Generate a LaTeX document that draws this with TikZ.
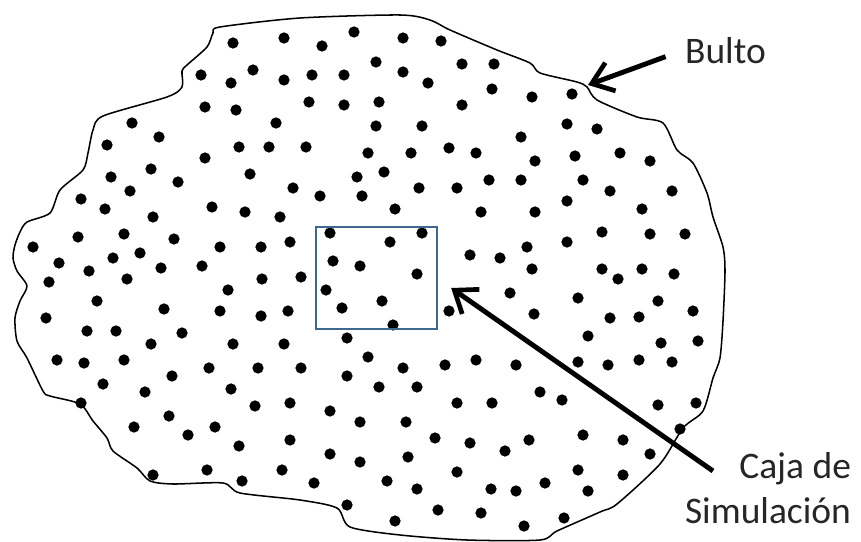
\documentclass[tikz,border=0pt]{standalone}
\usepackage{fontspec}
\setmainfont{Carlito}
\usetikzlibrary{arrows.meta}
\definecolor{boxblue}{RGB}{64,104,138}
\begin{document}
\begin{tikzpicture}[x=0.03cm, y=-0.03cm,
    every node/.style={font=\fontsize{32}{38}\selectfont, text=black!85},
    partdot/.style={fill=black},
    simbox/.style={draw=boxblue, line width=1.6pt, minimum width=103.7pt, minimum height=86.7pt, inner sep=0pt},
    pointer/.style={line width=4.2pt, -{Straight Barb[length=6mm, width=9mm, line width=4pt]}}]
  \useasboundingbox (0,0) rectangle (861,542);
  % Bulk outline
  \draw[line width=1.3pt, line join=round] plot[smooth cycle, tension=0.45] coordinates {
    (220,27) (300,18) (400,15) (430,20) (450,30) (497,50) (530,63) (540,73)
    (577,82) (587,87) (597,100) (637,117) (663,123) (677,150) (693,163)
    (707,193) (713,217) (723,247) (725,271) (723,321) (720,358) (713,378)
    (703,411) (683,428) (660,464) (617,504) (600,512) (557,531) (540,540)
    (467,540) (400,535) (350,527) (337,508) (300,500) (240,493) (223,483)
    (173,484) (150,481) (137,468) (113,451) (107,438) (93,421) (80,404)
    (50,396) (43,391) (27,358) (17,341) (15,318) (20,301) (27,286) (17,271)
    (13,258) (15,245) (20,232) (27,222) (50,213) (60,190) (83,170) (88,153)
    (93,130) (103,116) (167,97) (182,87) (182,71) (187,65) (207,47) (213,33)};
  % Particles
  \foreach \x/\y in {
    233/43, 284/38, 322/46, 354/32, 403/38, 441/41,
    201/75, 231/83, 253/70, 284/80, 312/75, 344/75, 376/62, 403/72, 428/83, 462/64, 494/64,
    205/107, 236/110, 309/102, 344/105, 379/102, 492/89, 462/105, 532/97, 572/94,
    132/123, 276/123, 376/126, 422/126, 567/124, 597/129, 159/137, 521/137,
    107/145, 239/147, 269/147, 306/147, 449/148, 368/153, 411/153, 476/153, 575/156, 620/153,
    205/158, 535/161, 650/161, 151/169, 250/174, 384/172, 357/177,
    111/177, 178/182, 489/180, 521/180, 583/180,
    293/188, 419/188, 130/191, 457/188, 610/191, 672/191,
    81/199, 320/196, 362/196, 567/201, 105/209, 212/207, 395/209, 642/209,
    245/212, 481/212, 535/212, 153/217, 280/217,
    78/237, 124/234, 174/239, 220/247, 261/247, 290/242, 330/233, 390/242, 422/233,
    33/247, 470/255, 500/258, 527/247, 567/242, 602/232, 650/234, 685/234,
    59/263, 113/258, 140/253, 89/271, 161/268, 202/266, 333/261, 360/266,
    532/269, 602/269, 642/269, 674/274, 417/274,
    49/282, 127/279, 262/279, 618/279, 301/277,
    228/290, 326/290, 510/293, 578/298, 97/301, 382/301, 658/301,
    164/309, 220/311, 261/316, 288/311, 342/308, 449/311, 534/314, 693/311, 610/318, 639/317,
    46/318, 393/325, 588/336, 661/343, 698/341,
    87/331, 116/331, 182/333, 151/344, 233/344, 284/344, 347/338,
    57/360, 84/363, 124/360, 209/368, 258/368, 301/368, 368/357, 403/368,
    445/365, 476/360, 516/365, 578/362, 608/365, 639/360, 672/362,
    172/376, 347/376, 103/384, 145/392, 231/389, 379/387, 417/387,
    540/392, 562/400, 457/403, 492/403, 658/405, 696/403,
    81/403, 255/406, 290/403, 330/411,
    169/416, 134/427, 215/427, 360/422, 406/422, 680/429,
    188/435, 435/438, 470/443, 505/451, 529/440, 583/435, 623/440, 650/454,
    239/446, 290/440, 330/454, 360/462, 408/457,
    153/475, 207/470, 242/481, 282/470, 314/483, 387/481, 417/489,
    457/472, 491/489, 516/491, 545/483, 578/470, 588/491, 623/475,
    347/505, 438/510, 395/521, 481/513, 524/526, 564/518}
    \fill[partdot] (\x,\y) circle[radius=4.8pt];
  % Simulation box
  \node[simbox] (simcell) at (376.5,278) {};
  % Labels
  \node[anchor=west] (bulto) at (681,51) {Bulto};
  \node[align=right] (caja) at (768,488) {Caja de\\Simulación};
  \coordinate (bultoTip) at (588,85);
  \coordinate (cajaTail) at (713,471);
  \draw[pointer, shorten <=14pt] (bulto.west) -- (bultoTip);
  \draw[pointer] (cajaTail) -- ([shift={(13,10)}]simcell.east);
\end{tikzpicture}
\end{document}
